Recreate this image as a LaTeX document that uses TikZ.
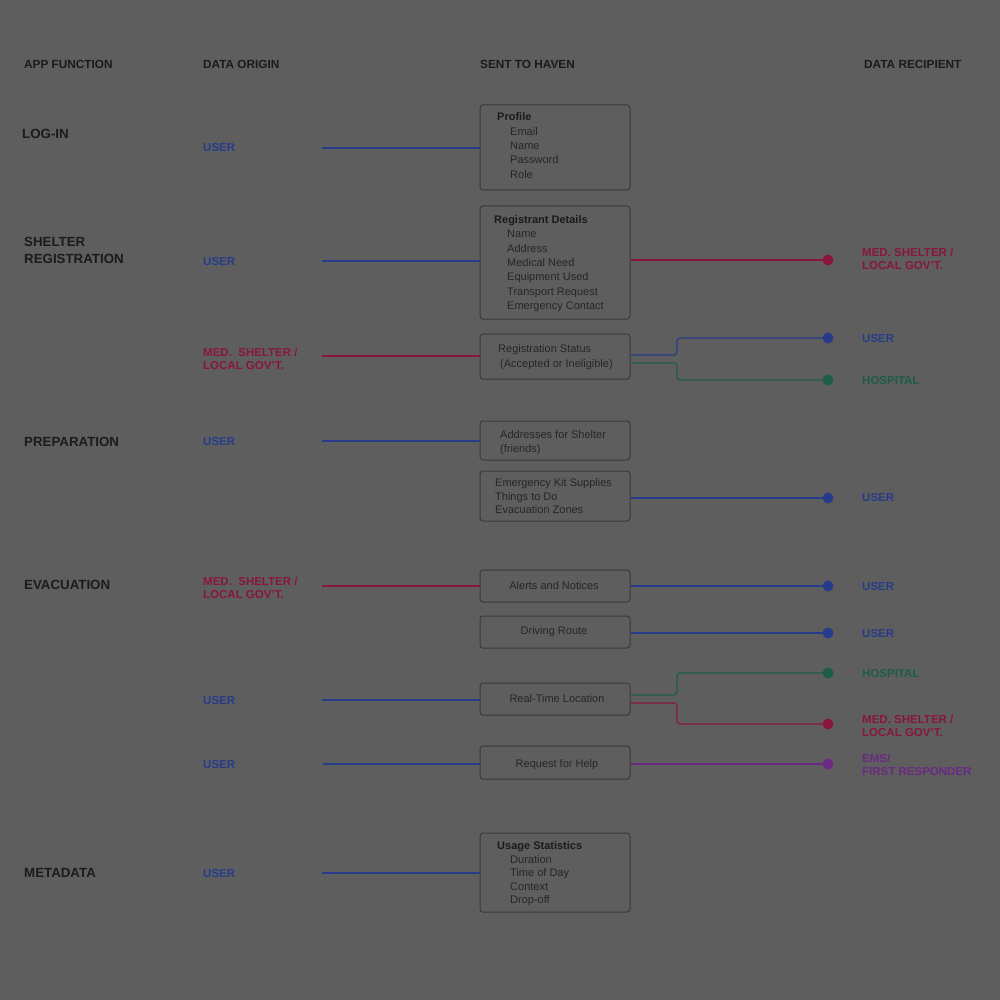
\documentclass[tikz,border=0pt]{standalone}
\usepackage{fontspec}
\setmainfont{Liberation Sans}
\definecolor{bg}{HTML}{5E5E5E}
\definecolor{ink}{HTML}{1B1B1B}
\definecolor{txt}{HTML}{262626}
\definecolor{boxc}{HTML}{3A3A3A}
\definecolor{cblue}{HTML}{263C8A}
\definecolor{cred}{HTML}{88163D}
\definecolor{cgreen}{HTML}{1E5C4A}
\definecolor{cpurple}{HTML}{6A2A82}
\tikzset{
  hdr/.style={anchor=base west, inner sep=0, text=ink, font=\fontsize{11.8}{14}\selectfont\bfseries},
  sec/.style={anchor=base west, inner sep=0, text=ink, align=left, font=\fontsize{13.3}{17}\selectfont\bfseries},
  lbl/.style={anchor=base west, inner sep=0, align=left, font=\fontsize{11.5}{13}\selectfont\bfseries},
  hbox/.style={draw=boxc, line width=1pt, rounded corners=3pt, minimum width=150pt, inner sep=0},
  ttl/.style={anchor=base west, inner sep=0, text=ink, font=\fontsize{11}{13}\selectfont\bfseries},
  itm/.style={anchor=base west, inner sep=0, text=txt, font=\fontsize{11}{13}\selectfont},
  itmc/.style={anchor=base, inner sep=0, text=txt, font=\fontsize{11}{13}\selectfont},
  con/.style={line width=1.2pt, rounded corners=3pt},
  dot/.style={circle, inner sep=0, minimum size=11pt},
}
\begin{document}
\begin{tikzpicture}[x=1pt,y=-1pt]
\fill[bg] (0,0) rectangle (1000,1000);
\useasboundingbox (0,0) rectangle (1000,1000);
% headers
\node[hdr] (h1) at (24,69) {APP FUNCTION};
\node[hdr] (h2) at (203,69) {DATA ORIGIN};
\node[hdr] (h3) at (480,69) {SENT TO HAVEN};
\node[hdr] (h4) at (864,69) {DATA RECIPIENT};
% sections
\node[sec] (s1) at (22,139) {LOG-IN};
\node[sec] (s2) at (24,263) {SHELTER\\REGISTRATION};
\node[sec] (s3) at (24,446) {PREPARATION};
\node[sec] (s4) at (24,589) {EVACUATION};
\node[sec] (s5) at (24,877) {METADATA};
% origins
\node[lbl, text=cblue] (o1) at (203,152) {USER};
\node[lbl, text=cblue] (o2) at (203,265) {USER};
\node[lbl, text=cred] (o3) at (203,369) {MED.\ \ SHELTER /\\LOCAL GOV’T.};
\node[lbl, text=cblue] (o4) at (203,445) {USER};
\node[lbl, text=cred] (o5) at (203,598) {MED.\ \ SHELTER /\\LOCAL GOV’T.};
\node[lbl, text=cblue] (o6) at (203,704) {USER};
\node[lbl, text=cblue] (o7) at (203,768) {USER};
\node[lbl, text=cblue] (o8) at (203,877) {USER};
% recipients
\node[lbl, text=cred] (r1) at (862,269) {MED. SHELTER /\\LOCAL GOV’T.};
\node[lbl, text=cblue] (r2) at (862,342) {USER};
\node[lbl, text=cgreen] (r3) at (862,384) {HOSPITAL};
\node[lbl, text=cblue] (r4) at (862,501) {USER};
\node[lbl, text=cblue] (r5) at (862,590) {USER};
\node[lbl, text=cblue] (r6) at (862,637) {USER};
\node[lbl, text=cgreen] (r7) at (862,677) {HOSPITAL};
\node[lbl, text=cred] (r8) at (862,736) {MED. SHELTER /\\LOCAL GOV’T.};
\node[lbl, text=cpurple] (r9) at (862,775) {EMS/\\FIRST RESPONDER};
% boxes
\node[hbox, minimum height=85pt] (b1) at (555,147.5) {};
\node[ttl] (b1t) at (497,121) {Profile};
\node[itm] (b1a) at (510,136) {Email};
\node[itm] (b1b) at (510,150) {Name};
\node[itm] (b1c) at (510,164) {Password};
\node[itm] (b1d) at (510,179) {Role};
\node[hbox, minimum height=113pt] (b2) at (555,262.5) {};
\node[ttl] (b2t) at (494,223) {Registrant Details};
\node[itm] (b2a) at (507,237) {Name};
\node[itm] (b2b) at (507,252) {Address};
\node[itm] (b2c) at (507,266) {Medical Need};
\node[itm] (b2d) at (507,280) {Equipment Used};
\node[itm] (b2e) at (507,295) {Transport Request};
\node[itm] (b2f) at (507,309) {Emergency Contact};
\node[hbox, minimum height=45pt] (b3) at (555,356.5) {};
\node[itm] (b3a) at (498,352) {Registration Status};
\node[itm] (b3b) at (500,367) {(Accepted or Ineligible)};
\node[hbox, minimum height=39pt] (b4) at (555,440.5) {};
\node[itm] (b4a) at (500,438) {Addresses for Shelter};
\node[itm] (b4b) at (500,452) {(friends)};
\node[hbox, minimum height=50pt] (b5) at (555,496) {};
\node[itm] (b5a) at (495,486) {Emergency Kit Supplies};
\node[itm] (b5b) at (495,500) {Things to Do};
\node[itm] (b5c) at (495,513) {Evacuation Zones};
\node[hbox, minimum height=32pt] (b6) at (555,586) {};
\node[itmc] (b6a) at (554,589) {Alerts and Notices};
\node[hbox, minimum height=32pt] (b7) at (555,632) {};
\node[itmc] (b7a) at (554,634) {Driving Route};
\node[hbox, minimum height=32pt] (b8) at (555,699) {};
\node[itmc] (b8a) at (557,702) {Real-Time Location};
\node[hbox, minimum height=33pt] (b9) at (555,762.5) {};
\node[itmc] (b9a) at (557,767) {Request for Help};
\node[hbox, minimum height=79pt] (b10) at (555,872.5) {};
\node[ttl] (b10t) at (497,849) {Usage Statistics};
\node[itm] (b10a) at (510,863) {Duration};
\node[itm] (b10b) at (510,876) {Time of Day};
\node[itm] (b10c) at (510,890) {Context};
\node[itm] (b10d) at (510,903) {Drop-off};
% incoming connectors
\coordinate (i1) at (322,148);
\coordinate (i2) at (322,261);
\coordinate (i3) at (322,356);
\coordinate (i4) at (322,441);
\coordinate (i5) at (322,586);
\coordinate (i6) at (322,700);
\coordinate (i7) at (323,764);
\coordinate (i8) at (322,873);
\draw[con, cblue] (i1) -- (i1 -| b1.west);
\draw[con, cblue] (i2) -- (i2 -| b2.west);
\draw[con, cred] (i3) -- (i3 -| b3.west);
\draw[con, cblue] (i4) -- (i4 -| b4.west);
\draw[con, cred] (i5) -- (i5 -| b6.west);
\draw[con, cblue] (i6) -- (i6 -| b8.west);
\draw[con, cblue] (i7) -- (i7 -| b9.west);
\draw[con, cblue] (i8) -- (i8 -| b10.west);
% recipient dots
\node[dot, fill=cred] (d1) at (828,260) {};
\node[dot, fill=cblue] (d2) at (828,338) {};
\node[dot, fill=cgreen] (d3) at (828,380) {};
\node[dot, fill=cblue] (d4) at (828,498) {};
\node[dot, fill=cblue] (d5) at (828,586) {};
\node[dot, fill=cblue] (d6) at (828,633) {};
\node[dot, fill=cgreen] (d7) at (828,673) {};
\node[dot, fill=cred] (d8) at (828,724) {};
\node[dot, fill=cpurple] (d9) at (828,764) {};
% outgoing connectors
\draw[con, cred] (d1 -| b2.east) -- (d1.center);
\draw[con, cblue] (b3.east |- 0,355) -- (677,355) -- (677,338) -- (d2.center);
\draw[con, cgreen] (b3.east |- 0,363) -- (677,363) -- (677,380) -- (d3.center);
\draw[con, cblue] (d4 -| b5.east) -- (d4.center);
\draw[con, cblue] (d5 -| b6.east) -- (d5.center);
\draw[con, cblue] (d6 -| b7.east) -- (d6.center);
\draw[con, cgreen] (b8.east |- 0,695) -- (677,695) -- (677,673) -- (d7.center);
\draw[con, cred] (b8.east |- 0,703) -- (677,703) -- (677,724) -- (d8.center);
\draw[con, cpurple] (d9 -| b9.east) -- (d9.center);
\end{tikzpicture}
\end{document}
